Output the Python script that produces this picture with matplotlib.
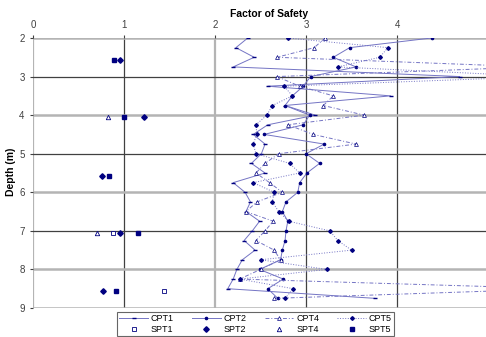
import matplotlib
matplotlib.use("Agg")
import matplotlib.pyplot as plt
import numpy as np

plt.rcParams["font.family"] = ["Liberation Sans", "DejaVu Sans"]

# depth (m) of the CPT readings
cpt_depth = [2.0, 2.25, 2.5, 2.75, 3.0, 3.25, 3.5, 3.75, 4.0, 4.25, 4.5, 4.75, 5.0, 5.25,
             5.5, 5.75, 6.0, 6.25, 6.5, 6.75, 7.0, 7.25, 7.5, 7.75, 8.0, 8.25, 8.5, 8.75]

cpt1 = [2.36, 2.23, 2.43, 2.20, 4.69, 2.58, 3.93, 2.77, 3.10, 2.58, 2.42, 2.55, 2.51, 2.40,
        2.55, 2.20, 2.33, 2.39, 2.34, 2.49, 2.41, 2.32, 2.44, 2.30, 2.24, 2.20, 2.14, 3.76]
cpt2 = [4.38, 3.48, 3.30, 3.55, 3.05, 2.97, 2.85, 2.77, 3.04, 2.97, 2.54, 3.20, 3.00, 3.15,
        3.01, 2.93, 2.91, 2.78, 2.74, 2.80, 2.78, 2.77, 2.74, 2.72, 2.49, 2.75, 2.58, 2.69]
cpt4 = [3.21, 3.09, 2.68, 5.50, 2.68, 2.93, 3.30, 3.19, 3.64, 2.80, 3.08, 3.55, 2.70, 2.55,
        2.45, 2.60, 2.74, 2.46, 2.34, 2.64, 2.55, 2.45, 2.65, 2.72, 2.50, 2.27, 5.80, 2.65]
cpt5 = [2.80, 3.90, 3.81, 3.35, 5.60, 2.76, 2.85, 2.63, 2.57, 2.45, 2.46, 2.42, 2.45, 2.82,
        2.93, 2.42, 2.65, 2.63, 2.70, 2.81, 3.26, 3.35, 3.50, 2.50, 3.23, 2.27, 2.86, 2.77]

spt1_fs = [0.88, 1.44]
spt1_depth = [7.05, 8.55]
spt2_fs = [0.96, 1.22, 0.76, 0.96, 0.77]
spt2_depth = [2.57, 4.05, 5.57, 7.05, 8.55]
spt4_fs = [0.82, 0.70]
spt4_depth = [4.06, 7.05]
spt5_fs = [0.89, 1.00, 0.83, 1.15, 0.91]
spt5_depth = [2.57, 4.05, 5.57, 7.05, 8.55]

line_col = "#7474c4"
mark_col = "#000080"

fig = plt.figure(figsize=(4.86, 3.37), dpi=100)
ax = fig.add_axes([33 / 486, 1 - 308 / 337, 455 / 486, 270 / 337])

# grid lines, drawn by hand to mimic the mixed grey/dark look
for xv in range(0, 6):
    dark = xv in (1, 3, 4)
    ax.axvline(xv, color="#404040" if dark else "#b4b4b4", lw=0.9 if dark else 1.6, zorder=0)
for yv in range(2, 10):
    dark = yv in (3, 5, 7)
    ax.axhline(yv, color="#404040" if dark else "#b4b4b4", lw=0.9 if dark else 1.8, zorder=0)

h_cpt1, = ax.plot(cpt1, cpt_depth, color=line_col, lw=0.7, ls="-", marker="_", ms=3.5,
                  mec=mark_col, label="CPT1")
h_cpt2, = ax.plot(cpt2, cpt_depth, color=line_col, lw=0.7, ls="-", marker="o", ms=1.6,
                  mec=mark_col, mfc=mark_col, label="CPT2")
h_cpt4, = ax.plot(cpt4, cpt_depth, color=line_col, lw=0.7, ls=(0, (4, 2, 1, 2)), marker="^",
                  ms=2.8, mec=mark_col, mfc="white", mew=0.5, label="CPT4")
h_cpt5, = ax.plot(cpt5, cpt_depth, color=line_col, lw=0.7, ls=":", marker="D", ms=1.9,
                  mec=mark_col, mfc=mark_col, label="CPT5")

h_spt1, = ax.plot(spt1_fs, spt1_depth, ls="none", marker="s", ms=3.2, mfc="white",
                  mec=mark_col, mew=0.6, label="SPT1")
h_spt2, = ax.plot(spt2_fs, spt2_depth, ls="none", marker="D", ms=2.8, mfc=mark_col,
                  mec=mark_col, label="SPT2")
h_spt4, = ax.plot(spt4_fs, spt4_depth, ls="none", marker="^", ms=3.2, mfc="white",
                  mec=mark_col, mew=0.6, label="SPT4")
h_spt5, = ax.plot(spt5_fs, spt5_depth, ls="none", marker="s", ms=3.4, mfc=mark_col,
                  mec=mark_col, label="SPT5")

ax.set_xlim(0, 5)
ax.set_ylim(9, 2)
ax.xaxis.tick_top()
ax.set_xticks(range(0, 6))
ax.set_yticks(range(2, 10))
ax.tick_params(labelsize=7, colors="#404040", length=2, pad=4)
for sp in ax.spines.values():
    sp.set_visible(False)

fig.text(269 / 486, 1 - 14 / 337, "Factor of Safety", ha="center", va="center",
         fontsize=7.5, fontweight="bold")
fig.text(11 / 486, 1 - 172 / 337, "Depth (m)", ha="center", va="center", rotation=90,
         fontsize=7.5, fontweight="bold")

# legend fills column by column: put CPT on row one, SPT on row two
handles = [h_cpt1, h_spt1, h_cpt2, h_spt2, h_cpt4, h_spt4, h_cpt5, h_spt5]
labels = [h.get_label() for h in handles]
leg = fig.legend(handles, labels, ncol=4, loc="upper left",
                 bbox_to_anchor=(117 / 486, 1 - 312 / 337), fontsize=6.5,
                 frameon=True, fancybox=False, edgecolor="#404040",
                 handlelength=3.2, columnspacing=2.0, borderpad=0.25,
                 labelspacing=0.2, handletextpad=0.3, borderaxespad=0)
leg.get_frame().set_linewidth(0.8)

fig.savefig("out.png", dpi=100)
